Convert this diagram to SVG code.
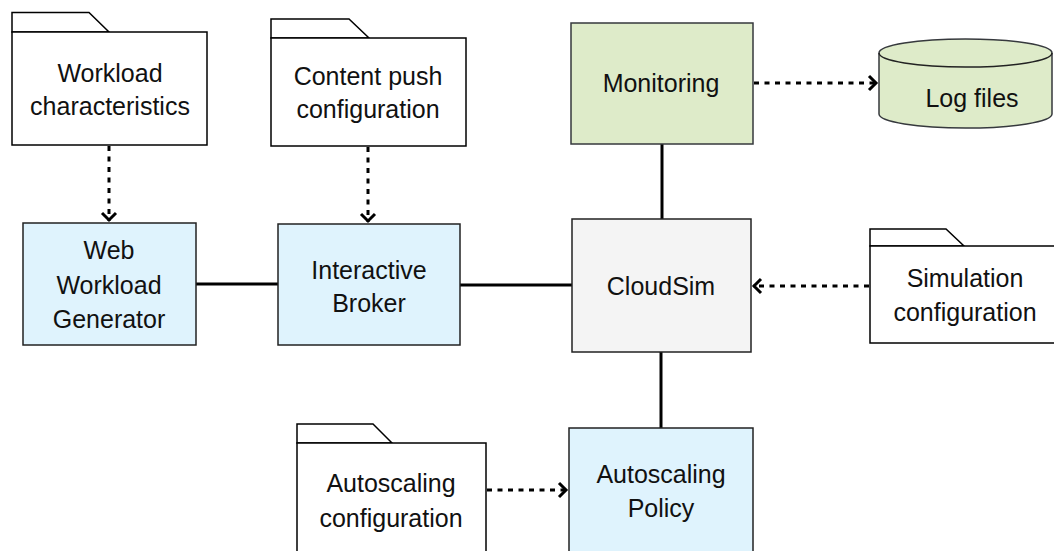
<svg xmlns="http://www.w3.org/2000/svg" width="1054" height="551" viewBox="0 0 1054 551">
<style>
text{font-family:"Liberation Sans",Arial,Helvetica,sans-serif;font-size:25px;fill:#111;text-anchor:middle}
.fold{fill:#fff;stroke:#000;stroke-width:1.5}
.blue{fill:#dff3fd;stroke:#222;stroke-width:1.5}
.green{fill:#deebc9;stroke:#36393d;stroke-width:1.5}
.gray{fill:#f4f4f4;stroke:#222;stroke-width:1.5}
.solid{stroke:#000;stroke-width:3;fill:none}
.dash{stroke:#000;stroke-width:3;fill:none;stroke-dasharray:5 5.5;marker-end:url(#open)}
</style>
<defs>
<marker id="open" markerUnits="userSpaceOnUse" markerWidth="20" markerHeight="20" viewBox="-10 -10 20 20" refX="1" refY="0" orient="auto">
<path d="M-7,-7 L0,0 L-7,7" fill="none" stroke="#000" stroke-width="3"/>
</marker>
</defs>
<g id="connectors">
<line class="solid" x1="196" y1="284" x2="278" y2="284"/>
<line class="solid" x1="460" y1="285" x2="572" y2="285"/>
<line class="solid" x1="662" y1="144" x2="662" y2="219"/>
<line class="solid" x1="661" y1="352" x2="661" y2="428"/>
<line class="dash" x1="109" y1="146" x2="109" y2="221"/>
<line class="dash" x1="368" y1="147" x2="368" y2="222"/>
<line class="dash" x1="754" y1="83" x2="877" y2="83"/>
<line class="dash" x1="869" y1="286" x2="753" y2="286"/>
<line class="dash" x1="487" y1="490" x2="567" y2="490"/>
</g>
<g id="workload-characteristics">
<path class="fold" d="M12,32 L12,12.5 L89,12.5 L109,32 Z"/>
<rect class="fold" x="12" y="32" width="195" height="113"/>
<text x="110" y="82">Workload</text>
<text x="110" y="115">characteristics</text>
</g>
<g id="content-push-configuration">
<path class="fold" d="M271,38 L271,19 L349,19 L369,38 Z"/>
<rect class="fold" x="271" y="38" width="195" height="108"/>
<text x="368" y="85">Content push</text>
<text x="368" y="118">configuration</text>
</g>
<g id="monitoring">
<rect class="green" x="571" y="23" width="182" height="121"/>
<text x="661" y="92">Monitoring</text>
</g>
<g id="log-files">
<path class="green" d="M879,53 L879,114 A86.5,14 0 0 0 1052,114 L1052,53 A86.5,14 0 0 0 879,53 Z"/>
<path d="M879,53 A86.5,14 0 0 0 1052,53" fill="none" stroke="#222" stroke-width="1.5"/>
<text x="972" y="107">Log files</text>
</g>
<g id="web-workload-generator">
<rect class="blue" x="23" y="223" width="173" height="122"/>
<text x="109" y="259">Web</text>
<text x="109" y="294">Workload</text>
<text x="109" y="328">Generator</text>
</g>
<g id="interactive-broker">
<rect class="blue" x="278" y="224" width="182" height="121"/>
<text x="369" y="279">Interactive</text>
<text x="369" y="312">Broker</text>
</g>
<g id="cloudsim">
<rect class="gray" x="572" y="219" width="179" height="133"/>
<text x="661" y="295">CloudSim</text>
</g>
<g id="simulation-configuration">
<path class="fold" d="M870,246 L870,229 L946,229 L964,246 Z"/>
<rect class="fold" x="870" y="246" width="192" height="97"/>
<text x="965" y="287">Simulation</text>
<text x="965" y="321">configuration</text>
</g>
<g id="autoscaling-configuration">
<path class="fold" d="M297,443 L297,424 L373,424 L392,443 Z"/>
<rect class="fold" x="297" y="443" width="189" height="113"/>
<text x="391" y="492">Autoscaling</text>
<text x="391" y="527">configuration</text>
</g>
<g id="autoscaling-policy">
<rect class="blue" x="569" y="428" width="184" height="125"/>
<text x="661" y="483">Autoscaling</text>
<text x="661" y="517">Policy</text>
</g>
</svg>
